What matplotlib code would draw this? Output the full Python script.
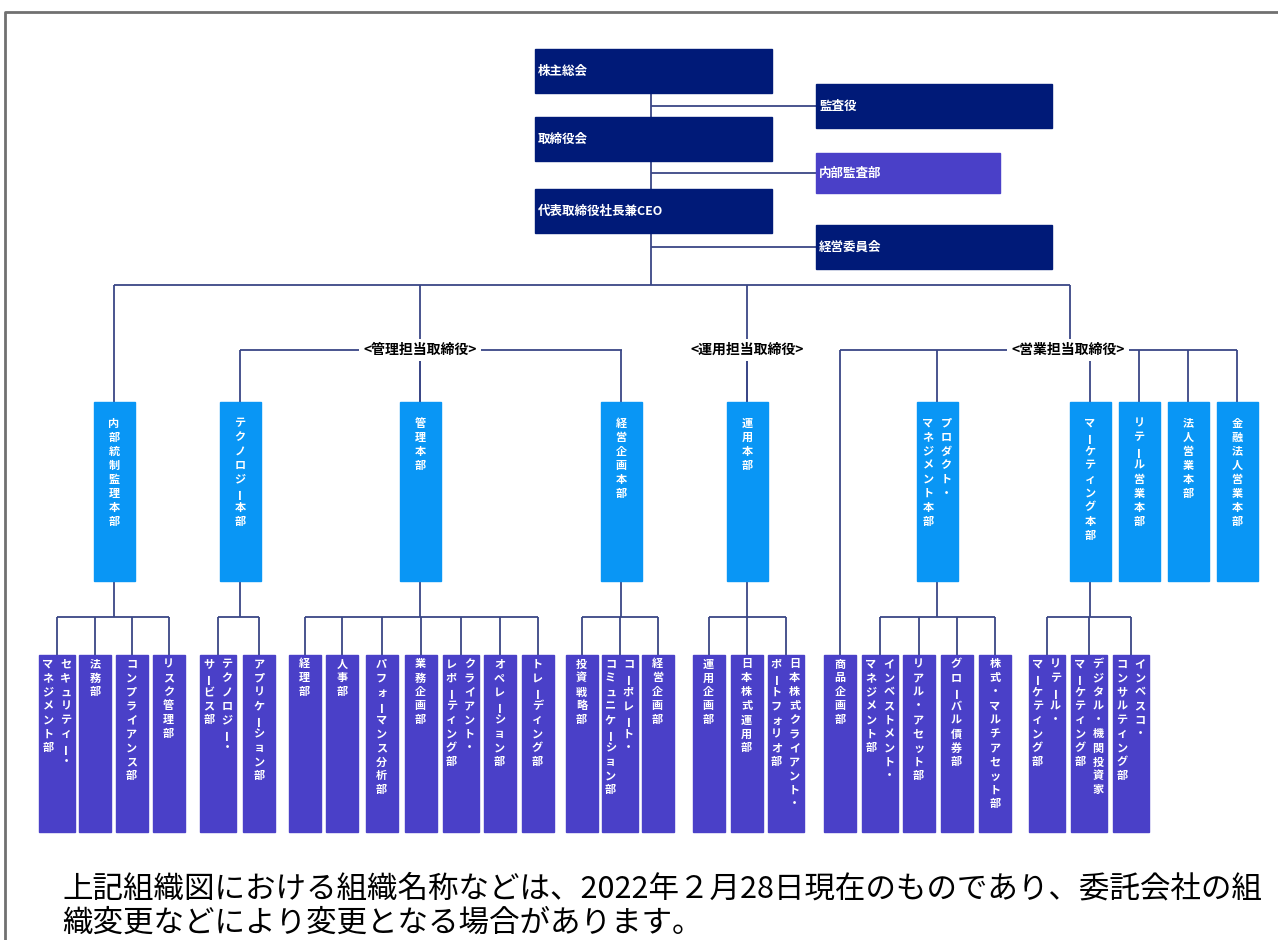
import matplotlib
matplotlib.use("Agg")
import matplotlib.pyplot as plt
from matplotlib.patches import Rectangle

plt.rcParams['font.family'] = ['Noto Sans CJK JP', 'DejaVu Sans']

# ---------------- data ----------------
top_names = ['株主総会', '取締役会', '代表取締役社長兼CEO']
side_names = ['監査役', '内部監査部', '経営委員会']
director_labels = ['<管理担当取締役>', '<運用担当取締役>', '<営業担当取締役>']

middle_names = ['内部統制監理本部', 'テクノロジー本部', '管理本部', '経営企画本部', '運用本部',
                'プロダクト・\nマネジメント本部', 'マーケティング本部', 'リテール営業本部',
                '法人営業本部', '金融法人営業本部']

bottom_groups = [
    ['セキュリティー・\nマネジメント部', '法務部', 'コンプライアンス部', 'リスク管理部'],
    ['テクノロジー・\nサービス部', 'アプリケーション部'],
    ['経理部', '人事部', 'パフォーマンス分析部', '業務企画部', 'クライアント・\nレポーティング部',
     'オペレーション部', 'トレーディング部'],
    ['投資戦略部', 'コーポレート・\nコミュニケーション部', '経営企画部'],
    ['運用企画部', '日本株式運用部', '日本株式クライアント・\nポートフォリオ部'],
    ['インベストメント・\nマネジメント部', 'リアル・アセット部', 'グローバル債券部', '株式・マルチアセット部'],
    ['リテール・\nマーケティング部', 'デジタル・機関投資家\nマーケティング部', 'インベスコ・\nコンサルティング部'],
]
bottom_parent = [0, 1, 2, 3, 4, 5, 6]   # index into middle_names
direct_unit = '商品企画部'              # directly under 営業担当取締役

note_lines = ['上記組織図における組織名称などは、2022年２月28日現在のものであり、委託会社の組',
              '織変更などにより変更となる場合があります。']

# ---------------- layout ----------------
mid_x = [114, 240, 420, 621, 747, 937, 1090, 1139, 1188, 1237]
director_x = [420, 747, 1068]
director_span = [(240, 622), None, (840, 1237)]
director_children = [[1, 2, 3], [4], [5, 6, 7, 8, 9]]
bottom_x = [
    [57, 95, 131.5, 168.5],
    [218, 259],
    [304.5, 342, 381.5, 420.5, 460.5, 499.5, 537.5],
    [581.5, 619.5, 657.5],
    [708.5, 746.5, 785.5],
    [880, 918.5, 956.5, 995],
    [1046.5, 1089, 1131],
]
direct_x = 840

NAVY = '#001a78'
BLUE = '#0996f5'
PURPLE = '#4a40c8'
LINE = '#3a4686'

fig = plt.figure(figsize=(12.78, 9.40), dpi=100)
ax = fig.add_axes([0, 0, 1, 1])
ax.set_xlim(0, 1278)
ax.set_ylim(940, 0)
ax.axis('off')

def line(xs, ys, lw=1.3, color=LINE):
    ax.plot(xs, ys, color=color, lw=lw, zorder=1, solid_capstyle='butt')

def vtext(xc, ytop, text, step=14, fs=8):
    cols = text.split('\n')
    n = len(cols)
    gap = 18
    for ci, col in enumerate(cols):
        x = xc + (n - 1) * gap / 2 - ci * gap
        for i, ch in enumerate(col):
            rot = 90 if ch in 'ー' else 0
            ax.text(x, ytop + i * step + step / 2, ch, color='white', fontsize=fs,
                    fontweight='bold', ha='center', va='center', rotation=rot, zorder=4)

# frame
ax.plot([5, 5, 1278], [940, 12, 12], color='#707070', lw=2, zorder=0)

# top section
trunk_x = 651
top_y = [49, 117, 189]
side_y = [84, 153, 225]
side_w = [236, 184, 236]
side_color = [NAVY, PURPLE, NAVY]
line([trunk_x, trunk_x], [93, 285])
for i, name in enumerate(top_names):
    ax.add_patch(Rectangle((535, top_y[i]), 237, 44, color=NAVY, zorder=3))
    ax.text(538, top_y[i] + 22, name, color='white', fontsize=9, fontweight='bold',
            ha='left', va='center', zorder=4)
for i, name in enumerate(side_names):
    h = 44 if i != 1 else 40
    ax.add_patch(Rectangle((816, side_y[i]), side_w[i], h, color=side_color[i], zorder=3))
    ax.text(819, side_y[i] + h / 2, name, color='white', fontsize=9, fontweight='bold',
            ha='left', va='center', zorder=4)
    line([trunk_x, 816], [side_y[i] + h / 2] * 2)

# level bus
bus_y = 285
line([mid_x[0], 1070], [bus_y, bus_y])
line([mid_x[0], mid_x[0]], [bus_y, 402])
line([420, 420], [bus_y, 402])
line([747, 747], [bus_y, 402])
line([1070, 1070], [bus_y, 350])

# director labels
lab_y = 350
for k, lab in enumerate(director_labels):
    span = director_span[k]
    if span:
        line([span[0], span[1]], [lab_y, lab_y])
    for c in director_children[k]:
        line([mid_x[c], mid_x[c]], [lab_y, 402])
    ax.text(director_x[k], lab_y, lab, fontsize=10, fontweight='bold', color='black',
            ha='center', va='center', zorder=5,
            bbox=dict(facecolor='white', edgecolor='none', pad=3))
line([direct_x, direct_x], [lab_y, 655])

# middle boxes
for i, name in enumerate(middle_names):
    ax.add_patch(Rectangle((mid_x[i] - 20.5, 402), 41, 179, color=BLUE, zorder=3))
    vtext(mid_x[i], 416, name)

# bottom boxes
bus2_y = 617
for g, names in enumerate(bottom_groups):
    px = mid_x[bottom_parent[g]]
    xs = bottom_x[g]
    line([px, px], [581, bus2_y])
    line([min(xs + [px]), max(xs + [px])], [bus2_y, bus2_y])
    for j, name in enumerate(names):
        w = 36 if '\n' in name else 32
        line([xs[j], xs[j]], [bus2_y, 655])
        ax.add_patch(Rectangle((xs[j] - w / 2, 655), w, 177, color=PURPLE, zorder=3))
        vtext(xs[j], 657, name, step=14, fs=8)
ax.add_patch(Rectangle((direct_x - 16, 655), 32, 177, color=PURPLE, zorder=3))
vtext(direct_x, 657, direct_unit)

# note
for i, t in enumerate(note_lines):
    ax.text(62, 889 + i * 34, t, fontsize=22, color='black', ha='left', va='center')

fig.savefig('out.png', dpi=100)
